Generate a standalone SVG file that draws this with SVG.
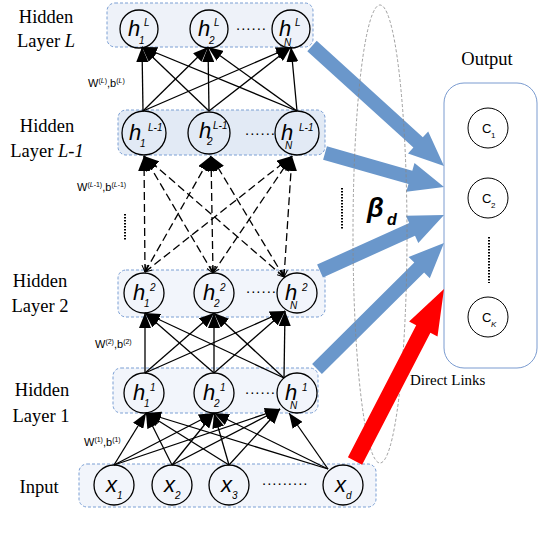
<svg xmlns="http://www.w3.org/2000/svg" width="540" height="542" viewBox="0 0 540 542">
<defs>
<marker id="ah" markerUnits="userSpaceOnUse" markerWidth="15" markerHeight="12" viewBox="0 0 15 12" refX="15" refY="6" orient="auto"><path d="M0,0 L15,6 L0,12 z" fill="#000"/></marker>
<marker id="va" markerUnits="userSpaceOnUse" markerWidth="7" markerHeight="7" viewBox="0 0 7 7" refX="7" refY="3.5" orient="auto-start-reverse"><path d="M0,0.5 L7,3.5 L0,6.5" fill="none" stroke="#000" stroke-width="1"/></marker>
</defs>
<style>
.box{stroke:#7b9fd4;stroke-width:1;stroke-dasharray:3 2;}
.nd{fill:none;stroke:#000;stroke-width:1.3;}
.h{font-family:"Liberation Sans",Arial,sans-serif;font-style:italic;font-size:22px;fill:#000;}
.s{font-family:"Liberation Sans",Arial,sans-serif;font-style:italic;font-size:10px;fill:#000;}
.lbl{font-family:"Liberation Serif","Times New Roman",serif;font-size:18.5px;fill:#000;text-anchor:middle;}
.w{font-family:"Liberation Sans",Arial,sans-serif;font-size:11px;fill:#000;}
.ws{font-size:7px;}
.dots{font-family:"Liberation Sans",Arial,sans-serif;font-size:15px;letter-spacing:1px;fill:#000;}
.c{font-family:"Liberation Sans",Arial,sans-serif;font-size:13px;fill:#000;}
.cs{font-size:8px;}
.sol line{stroke:#000;stroke-width:1.3;marker-end:url(#ah);}
.dsh line{stroke:#000;stroke-width:1.3;stroke-dasharray:8 4;marker-end:url(#ah);marker-start:url(#va);}
.blue{fill:#6a97cb;}
</style>
<rect width="540" height="542" fill="#fff"/>

<!-- layer boxes -->
<rect id="boxL" class="box" x="107" y="3" width="206" height="44" rx="8" fill="#eef2f9"/>
<rect id="boxL1" class="box" x="118" y="110" width="207" height="45" rx="8" fill="#e2eaf5"/>
<rect id="box2" class="box" x="118" y="270" width="207" height="47" rx="8" fill="#f2f5fb"/>
<rect id="box1" class="box" x="113" y="368" width="205" height="45" rx="8" fill="#f2f5fb"/>
<rect id="boxIn" class="box" x="79" y="464" width="297" height="43" rx="8" fill="#f2f5fb"/>

<!-- layer labels -->
<g id="labels">
<text class="lbl" x="46" y="23">Hidden</text>
<text class="lbl" x="46" y="47">Layer <tspan font-style="italic">L</tspan></text>
<text class="lbl" x="47" y="132">Hidden</text>
<text class="lbl" x="47" y="157">Layer <tspan font-style="italic">L-1</tspan></text>
<text class="lbl" x="40" y="287">Hidden</text>
<text class="lbl" x="40" y="312">Layer 2</text>
<text class="lbl" x="42" y="396">Hidden</text>
<text class="lbl" x="41" y="422">Layer 1</text>
<text class="lbl" x="39" y="493">Input</text>
</g>

<!-- Layer L nodes -->
<g id="hL1"><circle class="nd" cx="139" cy="29" r="19"/><text class="h" x="128" y="36">h</text><text class="s" x="139" y="44">1</text><text class="s" x="144" y="26">L</text></g>
<g id="hL2"><circle class="nd" cx="209" cy="29" r="19"/><text class="h" x="198" y="36">h</text><text class="s" x="209" y="44">2</text><text class="s" x="214" y="26">L</text></g>
<g id="hLN"><circle class="nd" cx="291" cy="29" r="19"/><text class="h" x="279" y="36">h</text><text class="s" x="284" y="46">N</text><text class="s" x="295" y="26">L</text></g>
<text class="dots" x="236" y="30">......</text>

<!-- Layer L-1 nodes -->
<g id="hM1"><circle class="nd" cx="144" cy="133" r="22" stroke-width="2"/><text class="h" x="129" y="140">h</text><text class="s" x="140" y="147">1</text><text class="s" x="148" y="131" font-size="8">L-1</text></g>
<g id="hM2"><circle class="nd" cx="209" cy="133" r="21" stroke-width="0.8" stroke="#333"/><text class="h" x="199" y="138" font-size="15">h</text><text class="s" x="207" y="145" font-size="8">2</text><text class="s" x="213" y="129" font-size="7">L-1</text></g>
<g id="hMN"><circle class="nd" cx="297" cy="133" r="22" stroke-width="2"/><text class="h" x="281" y="140">h</text><text class="s" x="285" y="149">N</text><text class="s" x="299" y="131" font-size="8">L-1</text></g>
<text class="dots" x="245" y="135">......</text>

<!-- Layer 2 nodes -->
<g id="h21"><circle class="nd" cx="144" cy="293" r="20"/><text class="h" x="133" y="300">h</text><text class="s" x="144" y="307">1</text><text class="s" x="150" y="291">2</text></g>
<g id="h22"><circle class="nd" cx="214" cy="293" r="20"/><text class="h" x="203" y="300">h</text><text class="s" x="214" y="307">2</text><text class="s" x="220" y="291">2</text></g>
<g id="h2N"><circle class="nd" cx="297" cy="293" r="20"/><text class="h" x="285" y="300">h</text><text class="s" x="290" y="309">N</text><text class="s" x="302" y="291">2</text></g>
<text class="dots" x="246" y="293">......</text>

<!-- Layer 1 nodes -->
<g id="h11"><circle class="nd" cx="144" cy="393" r="20"/><text class="h" x="133" y="400">h</text><text class="s" x="144" y="407">1</text><text class="s" x="150" y="391">1</text></g>
<g id="h12"><circle class="nd" cx="214" cy="393" r="20"/><text class="h" x="203" y="400">h</text><text class="s" x="214" y="407">2</text><text class="s" x="220" y="391">1</text></g>
<g id="h1N"><circle class="nd" cx="297" cy="393" r="20"/><text class="h" x="285" y="400">h</text><text class="s" x="290" y="409">N</text><text class="s" x="302" y="391">1</text></g>
<text class="dots" x="245" y="394">......</text>

<!-- Input nodes -->
<g id="x1"><circle class="nd" cx="114" cy="485" r="20"/><text class="h" x="106" y="492">x</text><text class="s" x="117" y="499">1</text></g>
<g id="x2"><circle class="nd" cx="172" cy="485" r="20"/><text class="h" x="164" y="492">x</text><text class="s" x="175" y="499">2</text></g>
<g id="x3"><circle class="nd" cx="229" cy="485" r="20"/><text class="h" x="221" y="492">x</text><text class="s" x="232" y="499">3</text></g>
<g id="xd"><circle class="nd" cx="343" cy="485" r="20"/><text class="h" x="335" y="492">x</text><text class="s" x="346" y="499">d</text></g>
<text class="dots" x="262" y="485">.........</text>

<!-- Output -->
<g id="output">
<text class="lbl" x="487" y="65" font-size="18">Output</text>
<rect x="444" y="83" width="93" height="285" rx="20" fill="#fff" stroke="#7a9bd0" stroke-width="1"/>
</g>
<g id="c1"><circle cx="488" cy="128" r="20" fill="none" stroke="#000" stroke-width="1"/><text class="c" x="482" y="133">C</text><text class="c cs" x="491" y="138">1</text></g>
<g id="c2"><circle cx="488" cy="198" r="20" fill="none" stroke="#000" stroke-width="1"/><text class="c" x="482" y="203">C</text><text class="c cs" x="491" y="208">2</text></g>
<g id="ck"><circle cx="488" cy="317" r="20" fill="none" stroke="#000" stroke-width="1"/><text class="c" x="482" y="322">C</text><text class="c cs" x="491" y="327" font-style="italic">K</text></g>

<!-- vertical dotted marks -->
<line x1="125" y1="214" x2="125" y2="240" stroke="#000" stroke-width="2" stroke-dasharray="1.5 1.5"/>
<line x1="342" y1="188" x2="342" y2="229" stroke="#000" stroke-width="2" stroke-dasharray="1.5 1.5"/>
<line x1="489" y1="237" x2="489" y2="283" stroke="#000" stroke-width="2" stroke-dasharray="1.5 1.5"/>

<!-- connectors -->
<g id="connectors">
<g class="sol">
<line x1="143" y1="111" x2="142" y2="47"/>
<line x1="143" y1="111" x2="208" y2="47"/>
<line x1="143" y1="111" x2="291" y2="47"/>
<line x1="209" y1="111" x2="142" y2="47"/>
<line x1="209" y1="111" x2="208" y2="47"/>
<line x1="209" y1="111" x2="291" y2="47"/>
<line x1="297" y1="111" x2="142" y2="47"/>
<line x1="297" y1="111" x2="208" y2="47"/>
<line x1="297" y1="111" x2="291" y2="47"/>
</g>
<g class="dsh">
<line x1="145" y1="272" x2="144" y2="156"/>
<line x1="145" y1="272" x2="211" y2="156"/>
<line x1="145" y1="272" x2="292" y2="156"/>
<line x1="213" y1="273" x2="144" y2="156"/>
<line x1="213" y1="273" x2="211" y2="156"/>
<line x1="213" y1="273" x2="292" y2="156"/>
<line x1="284" y1="277" x2="144" y2="156"/>
<line x1="284" y1="277" x2="211" y2="156"/>
<line x1="284" y1="277" x2="292" y2="156"/>
</g>
<g class="sol">
<line x1="145" y1="373" x2="145" y2="313"/>
<line x1="145" y1="373" x2="214" y2="313"/>
<line x1="145" y1="373" x2="285" y2="311"/>
<line x1="214" y1="373" x2="145" y2="313"/>
<line x1="214" y1="373" x2="214" y2="313"/>
<line x1="214" y1="373" x2="285" y2="311"/>
<line x1="284" y1="378" x2="145" y2="313"/>
<line x1="284" y1="378" x2="214" y2="313"/>
<line x1="284" y1="378" x2="285" y2="311"/>
</g>
<g class="sol">
<line x1="114" y1="465" x2="146" y2="413"/>
<line x1="114" y1="465" x2="214" y2="413"/>
<line x1="114" y1="465" x2="280" y2="409"/>
<line x1="172" y1="465" x2="146" y2="413"/>
<line x1="172" y1="465" x2="214" y2="413"/>
<line x1="172" y1="465" x2="280" y2="409"/>
<line x1="229" y1="465" x2="146" y2="413"/>
<line x1="229" y1="465" x2="214" y2="413"/>
<line x1="229" y1="465" x2="280" y2="409"/>
<line x1="328" y1="469" x2="146" y2="413"/>
<line x1="328" y1="469" x2="214" y2="413"/>
<line x1="328" y1="469" x2="289" y2="413"/>
</g>
</g>

<!-- weight labels -->
<text class="w" x="88" y="87">W<tspan class="ws" dy="-4">(<tspan font-style="italic">L</tspan>)</tspan><tspan dy="4">,b</tspan><tspan class="ws" dy="-4">(<tspan font-style="italic">L</tspan>)</tspan></text>
<text class="w" x="77" y="191">W<tspan class="ws" dy="-4">(<tspan font-style="italic">L</tspan>-1)</tspan><tspan dy="4">,b</tspan><tspan class="ws" dy="-4">(<tspan font-style="italic">L</tspan>-1)</tspan></text>
<text class="w" x="95" y="348">W<tspan class="ws" dy="-4">(2)</tspan><tspan dy="4">,b</tspan><tspan class="ws" dy="-4">(2)</tspan></text>
<text class="w" x="84" y="446">W<tspan class="ws" dy="-4">(1)</tspan><tspan dy="4">,b</tspan><tspan class="ws" dy="-4">(1)</tspan></text>

<!-- fat arrows to output -->
<g id="beta-links">
<polygon class="blue" points="307.3,51.2 413.4,147.6 408,153.6 444,166 428.2,131.4 422.8,137.3 316.7,40.8"/>
<polygon class="blue" points="323.1,159.7 408.5,184.1 406.3,191.8 444,187 414.5,163 412.3,170.7 326.9,146.3"/>
<polygon class="blue" points="322.9,277.4 415,235.8 418.3,243.1 444,215 405.9,215.7 409.2,223 317.1,264.6"/>
<polygon class="blue" points="321.9,374 424.1,272.6 429.8,278.3 444,243 408.6,257 414.3,262.6 312.1,364"/>
</g>
<ellipse cx="380" cy="234" rx="27" ry="229" fill="none" stroke="#888" stroke-width="0.8" stroke-dasharray="3 2"/>
<g id="direct-link">
<polygon fill="#ff0000" points="362.1,464.7 430.4,332.7 437.5,336.4 444,289 409.1,321.6 416.2,325.3 347.9,457.3"/>
</g>
<text x="367" y="217" font-family="Liberation Sans,Arial,sans-serif" font-weight="bold" font-style="italic" font-size="27">β</text>
<text x="387" y="225" font-family="Liberation Sans,Arial,sans-serif" font-weight="bold" font-style="italic" font-size="16">d</text>
<text x="410" y="385" font-family="Liberation Serif,Times New Roman,serif" font-size="15">Direct Links</text>
</svg>
